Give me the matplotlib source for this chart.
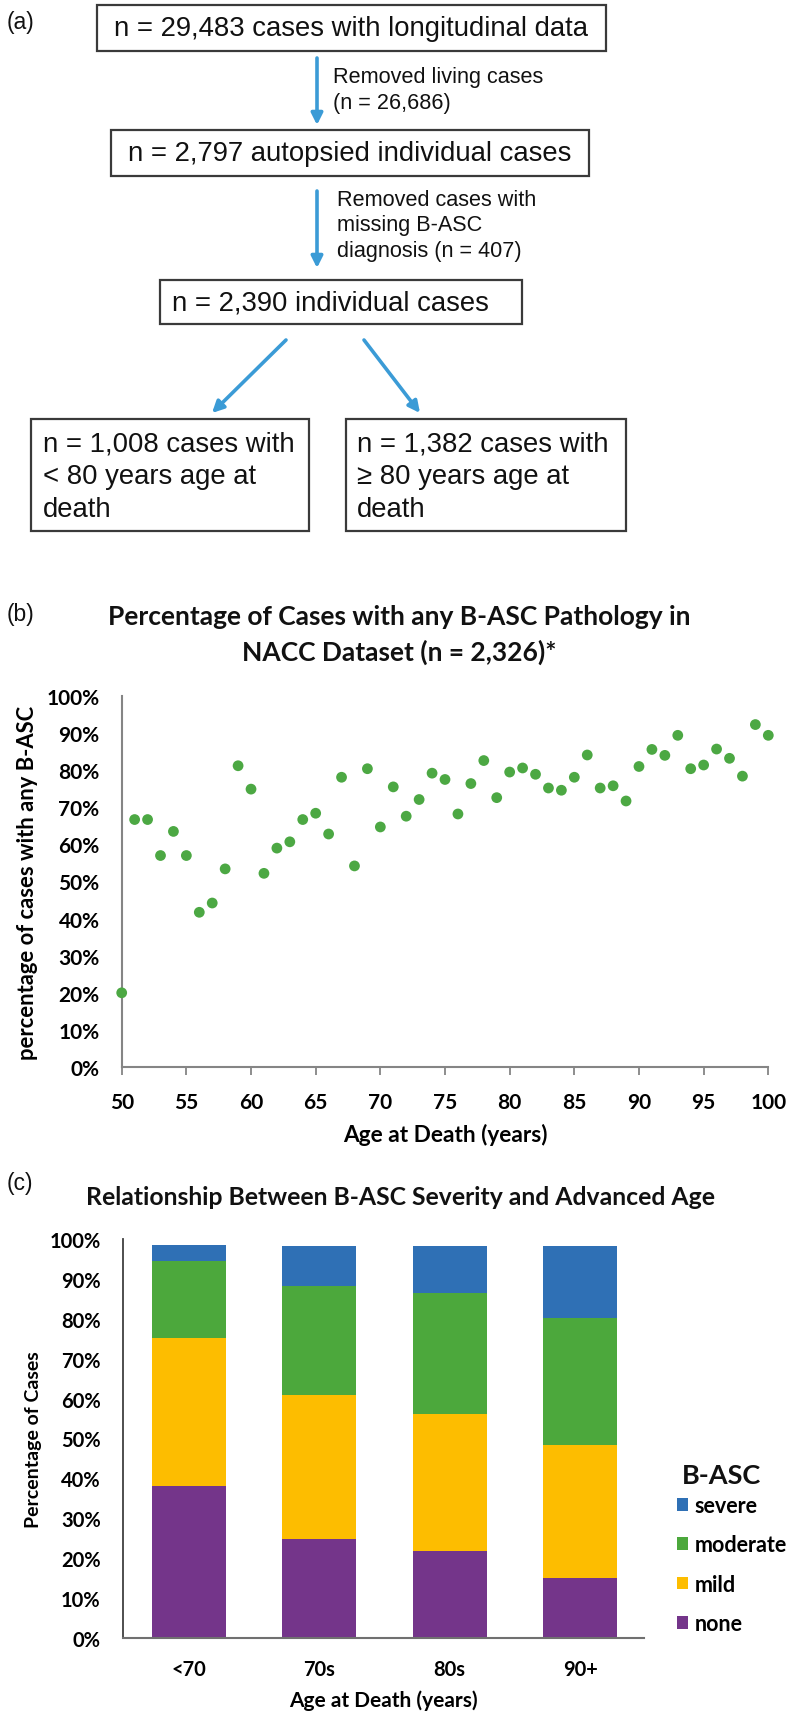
import matplotlib
matplotlib.use("Agg")
import matplotlib.pyplot as plt
from matplotlib.patches import Rectangle, Patch
from matplotlib.ticker import PercentFormatter, MultipleLocator

# ---- (a) flowchart text ----
box_texts = [
    ["n = 29,483 cases with longitudinal data"],
    ["n = 2,797 autopsied individual cases"],
    ["n = 2,390 individual cases"],
    ["n = 1,008 cases with", "< 80 years age at", "death"],
    ["n = 1,382 cases with", "\u2265 80 years age at", "death"],
]
step_notes = [
    ["Removed living cases", "(n = 26,686)"],
    ["Removed cases with", "missing B-ASC", "diagnosis (n = 407)"],
]

# ---- (b) percentage with any B-ASC by age ----
ages = list(range(50, 101))
pct_any = [20.0, 66.7, 66.7, 57.0, 63.5, 57.0, 41.7, 44.2, 53.4, 81.2,
           74.9, 52.2, 59.0, 60.7, 66.7, 68.4, 62.8, 78.1, 54.2, 80.4,
           64.7, 75.5, 67.6, 72.1, 79.2, 77.5, 68.2, 76.4, 82.6, 72.6,
           79.5, 80.6, 78.9, 75.2, 74.6, 78.1, 84.1, 75.2, 75.8, 71.7,
           81.0, 85.6, 84.0, 89.4, 80.4, 81.4, 85.7, 83.2, 78.4, 92.3,
           89.4]

# ---- (c) severity by age group ----
age_groups = ["<70", "70s", "80s", "90+"]
none_pct = [38.1, 24.9, 21.9, 15.0]
mild_pct = [37.2, 36.1, 34.3, 33.3]
moderate_pct = [19.1, 27.2, 30.2, 31.9]
severe_pct = [4.0, 10.1, 11.9, 18.1]

W, H = 800, 1724
fig = plt.figure(figsize=(W / 100, H / 100), dpi=100)

# overlay axes in pixel coordinates for the flowchart and panel text
ov = fig.add_axes([0, 0, 1, 1])
ov.set_xlim(0, W)
ov.set_ylim(H, 0)
ov.axis("off")
ov.set_zorder(-1)

flow_font = "Liberation Sans"
chart_font = "Lato"
arrow_col = "#3b9bd6"
edge_col = "#3a3a3a"

# boxes: (x0, y0, x1, y1, text x, align)
boxes = [
    (97, 6, 606, 52, 351, "center"),
    (111, 131, 589, 177, 350, "center"),
    (160, 281, 522, 325, 172, "left"),
    (31, 420, 309, 532, 43, "left"),
    (346, 420, 626, 532, 357, "left"),
]
for (x0, y0, x1, y1, tx, ha), lines in zip(boxes, box_texts):
    ov.add_patch(Rectangle((x0, y0), x1 - x0, y1 - y0, fill=False,
                           edgecolor=edge_col, lw=1.6))
    if len(lines) == 1:
        ys = [(y0 + y1) / 2]
    else:
        ys = [445, 477, 510]
    for yy, s in zip(ys, lines):
        ov.text(tx, yy, s, ha=ha, va="center", fontsize=19.8,
                family=flow_font, color="#111111")

arrows = [((317, 59), (317, 126)), ((317, 192), (317, 269)),
          ((286, 341), (212, 414)), ((364, 341), (420, 414))]
for start, tip in arrows:
    ov.annotate("", xy=tip, xytext=start,
                arrowprops=dict(arrowstyle="-|>", color=arrow_col, lw=2.6,
                                mutation_scale=17, shrinkA=0, shrinkB=0))

note_pos = [(333, [77, 103]), (337, [200, 226, 252])]
for (nx, nys), lines in zip(note_pos, step_notes):
    for yy, s in zip(nys, lines):
        ov.text(nx, yy, s, ha="left", va="center", fontsize=15.6,
                family=flow_font, color="#111111")

for lbl, (lx, ly) in zip(["(a)", "(b)", "(c)"], [(7, 22), (7, 615), (7, 1184)]):
    ov.text(lx, ly, lbl, ha="left", va="center", fontsize=16.5,
            family=flow_font, color="#111111")

# ---- (b) scatter ----
bx0, bx1, by0, by1 = 121.7, 768.3, 697, 1068
axb = fig.add_axes([bx0 / W, (H - by1) / H, (bx1 - bx0) / W, (by1 - by0) / H])
axb.scatter(ages, pct_any, s=60, color="#4ca843", edgecolors="none",
            zorder=3, clip_on=False)
axb.set_xlim(50, 100)
axb.set_ylim(0, 100)
axb.xaxis.set_major_locator(MultipleLocator(5))
axb.yaxis.set_major_locator(MultipleLocator(10))
axb.yaxis.set_major_formatter(PercentFormatter(100, decimals=0))
for side in ["top", "right"]:
    axb.spines[side].set_visible(False)
for side in ["left", "bottom"]:
    axb.spines[side].set_color("#858585")
    axb.spines[side].set_linewidth(1.5)
axb.tick_params(axis="x", direction="out", length=6, width=1.3,
                color="#858585", pad=12)
axb.tick_params(axis="y", length=0, pad=16)
for t in axb.get_xticklabels() + axb.get_yticklabels():
    t.set_fontfamily(chart_font)
    t.set_fontweight("bold")
    t.set_fontsize(15)
axb.set_xlabel("Age at Death (years)", family=chart_font, fontweight="bold",
               fontsize=16.3)
axb.xaxis.set_label_coords(0.5, -0.15)
axb.set_ylabel("percentage of cases with any B-ASC", family=chart_font,
               fontweight="bold", fontsize=15.8)
axb.yaxis.set_label_coords(-0.13, 0.5)
title_b = ["Percentage of Cases with any B-ASC Pathology in",
           "NACC Dataset (n = 2,326)*"]
for yy, s in zip([617, 652], title_b):
    ov.text(399, yy, s, ha="center", va="center", fontsize=19,
            family=chart_font, fontweight="bold", color="#111111")

# ---- (c) stacked bars ----
cx0, cx1, cy0, cy1 = 123, 644, 1240, 1639
axc = fig.add_axes([cx0 / W, (H - cy1) / H, (cx1 - cx0) / W, (cy1 - cy0) / H])
xs = list(range(len(age_groups)))
colors = {"none": "#74358a", "mild": "#fdbd00", "moderate": "#4ca83c",
          "severe": "#2f70b5"}
bottom = [0] * len(xs)
for name, vals in [("none", none_pct), ("mild", mild_pct),
                   ("moderate", moderate_pct), ("severe", severe_pct)]:
    axc.bar(xs, vals, width=0.565, bottom=bottom, color=colors[name],
            label=name, zorder=2)
    bottom = [b + v for b, v in zip(bottom, vals)]
axc.set_xlim(-0.505, 3.49)
axc.set_ylim(0, 100)
axc.set_xticks(xs)
axc.set_xticklabels(age_groups)
axc.yaxis.set_major_locator(MultipleLocator(10))
axc.yaxis.set_major_formatter(PercentFormatter(100, decimals=0))
for side in ["top", "right"]:
    axc.spines[side].set_visible(False)
axc.spines["left"].set_color("#404040")
axc.spines["bottom"].set_color("#707070")
axc.spines["left"].set_linewidth(1.3)
axc.spines["bottom"].set_linewidth(1.5)
axc.tick_params(axis="x", length=0, pad=15)
axc.tick_params(axis="y", length=0, pad=16)
for t in axc.get_xticklabels() + axc.get_yticklabels():
    t.set_fontfamily(chart_font)
    t.set_fontweight("bold")
    t.set_fontsize(14.5)
axc.set_xlabel("Age at Death (years)", family=chart_font, fontweight="bold",
               fontsize=15)
axc.xaxis.set_label_coords(0.5, -0.13)
axc.set_ylabel("Percentage of Cases", family=chart_font, fontweight="bold",
               fontsize=14)
axc.yaxis.set_label_coords(-0.155, 0.5)
ov.text(400, 1198, "Relationship Between B-ASC Severity and Advanced Age",
        ha="center", va="center", fontsize=17.8, family=chart_font,
        fontweight="bold", color="#111111")

order = ["severe", "moderate", "mild", "none"]
handles = [Patch(facecolor=colors[n], edgecolor="none") for n in order]
leg = axc.legend(handles, order, loc="upper left",
                 bbox_to_anchor=(677 / W, (H - 1496) / H),
                 bbox_transform=fig.transFigure, frameon=False,
                 handlelength=0.52, handleheight=0.52, handletextpad=0.3,
                 labelspacing=0.85, borderpad=0, borderaxespad=0,
                 prop=dict(family=chart_font, weight="bold", size=15.5))
ov.text(682, 1476, "B-ASC", ha="left", va="center", fontsize=19.5,
        family=chart_font, fontweight="bold", color="#111111")

fig.savefig("out.png", dpi=100, facecolor="white")
